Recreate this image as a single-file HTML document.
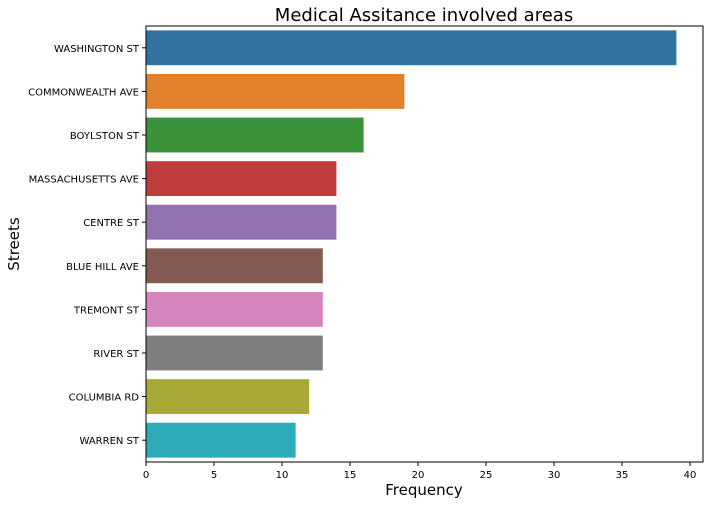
<!DOCTYPE html>
<html><head><meta charset="utf-8"><style>
body{margin:0;background:#fff;}
svg{display:block;font-family:"DejaVu Sans","Liberation Sans",sans-serif;}
</style></head><body>
<svg id="chart" width="714" height="505">
<text x="424" y="21" text-anchor="middle" font-size="18">Medical Assitance involved areas</text>
<text x="424" y="495" text-anchor="middle" font-size="15">Frequency</text>
<text transform="translate(19,244) rotate(-90)" text-anchor="middle" font-size="15">Streets</text>
<g id="bars"></g><g id="ticks"></g>
<rect x="146" y="26" width="557" height="436" fill="none" stroke="#000" stroke-width="1"/>
</svg>
<script>
const categories=["WASHINGTON ST","COMMONWEALTH AVE","BOYLSTON ST","MASSACHUSETTS AVE","CENTRE ST","BLUE HILL AVE","TREMONT ST","RIVER ST","COLUMBIA RD","WARREN ST"];
const values=[39,19,16,14,14,13,13,13,12,11];
const xTicks=[0,5,10,15,20,25,30,35,40];
const colors=["#3274a1","#e1812c","#3a923a","#c03d3e","#9372b2","#845b53","#d684bd","#7f7f7f","#a9aa35","#2eabb8"];
const L=146,T=26,B=462,pxPerUnit=13.6;
const x=v=>L+v*pxPerUnit;
const band=(B-T)/categories.length;
const y=i=>T+i*band;
const NS="http://www.w3.org/2000/svg";
const bars=document.getElementById("bars"),ticks=document.getElementById("ticks");
categories.forEach((c,i)=>{
 const r=document.createElementNS(NS,"rect");
 r.setAttribute("x",x(0));r.setAttribute("y",y(i)+band*0.1);
 r.setAttribute("width",x(values[i])-x(0));r.setAttribute("height",band*0.8);
 r.setAttribute("fill",colors[i]);
 
 
 bars.appendChild(r);
 const ln=document.createElementNS(NS,"line");
 ln.setAttribute("x1",L-4);ln.setAttribute("x2",L);ln.setAttribute("y1",y(i)+band/2);ln.setAttribute("y2",y(i)+band/2);ln.setAttribute("stroke","#000");
 ticks.appendChild(ln);
 const t=document.createElementNS(NS,"text");
 t.setAttribute("x",L-7);t.setAttribute("y",y(i)+band/2+4);t.setAttribute("text-anchor","end");t.setAttribute("font-size","10");
 t.textContent=c;
 
 
 ticks.appendChild(t);
});
xTicks.forEach(v=>{
 const ln=document.createElementNS(NS,"line");
 ln.setAttribute("x1",x(v));ln.setAttribute("x2",x(v));ln.setAttribute("y1",B);ln.setAttribute("y2",B+4);ln.setAttribute("stroke","#000");
 ticks.appendChild(ln);
 const t=document.createElementNS(NS,"text");
 t.setAttribute("x",x(v));t.setAttribute("y",B+16);t.setAttribute("text-anchor","middle");t.setAttribute("font-size","10");
 t.textContent=v;
 
 
 ticks.appendChild(t);
});
</script>
</body></html>
